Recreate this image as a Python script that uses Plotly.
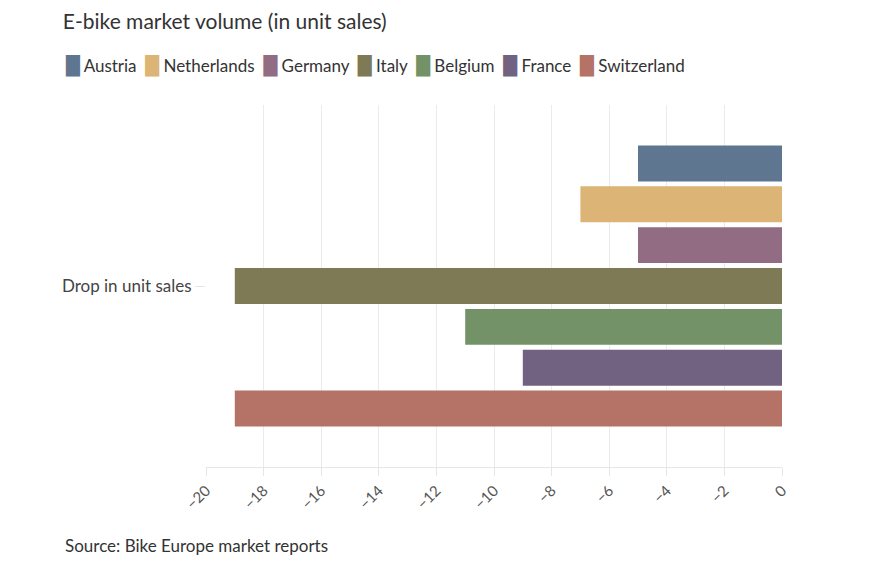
import plotly.graph_objects as go

countries = ["Austria", "Netherlands", "Germany", "Italy", "Belgium", "France", "Switzerland"]
values = [-5, -7, -5, -19, -11, -9, -19]
colors = ["#5f7690", "#dbb476", "#926c83", "#7e7a56", "#749268", "#716282", "#b57266"]
category = ["Drop in unit sales"]
x_ticks = [-20, -18, -16, -14, -12, -10, -8, -6, -4, -2, 0]

fig = go.Figure()
for name, v, c in reversed(list(zip(countries, values, colors))):
    fig.add_trace(go.Bar(
        y=category, x=[v], name=name, orientation="h",
        marker=dict(color=c, line=dict(width=0)),
    ))

legend_text = "&nbsp;&nbsp;".join(
    f'<span style="color:{c};font-family:DejaVu Sans;font-size:18px">█</span>&nbsp;{n}'
    for n, c in zip(countries, colors)
)

fig.update_layout(
    width=871, height=576,
    barmode="group", bargap=0.21, bargroupgap=0.12,
    plot_bgcolor="white", paper_bgcolor="white",
    font=dict(family="Lato, Noto Sans, sans-serif", color="#444", size=15),
    margin=dict(l=198, r=97, t=97, b=117),
    title=dict(text="E-bike market volume (in unit sales)", x=0.063, xref="container",
               xanchor="left", y=0.976, yanchor="middle",
               font=dict(size=21, color="#333"), pad=dict(l=0)),
    showlegend=False,
    annotations=[
        dict(text=legend_text, xref="paper", yref="paper",
             x=-0.248, y=1.108, xanchor="left", yanchor="middle",
             showarrow=False, font=dict(size=17, color="#333")),
        dict(text="Source: Bike Europe market reports", xref="paper", yref="paper",
             x=-0.248, y=-0.218, xanchor="left", yanchor="middle",
             showarrow=False, font=dict(size=17, color="#333")),
    ],
)
fig.update_xaxes(range=[-20, 0], tickvals=x_ticks, tickangle=-45, showgrid=True,
                 gridcolor="#ebebeb", showline=True, linecolor="#e6e6e6",
                 ticks="outside", ticklen=8, tickcolor="#e6e6e6", zeroline=False,
                 tickfont=dict(size=15, color="#555"))
fig.update_yaxes(showline=False, ticks="outside", ticklen=10, tickcolor="#e6e6e6",
                 tickfont=dict(size=17, color="#444"))
fig.write_html("out.html")
